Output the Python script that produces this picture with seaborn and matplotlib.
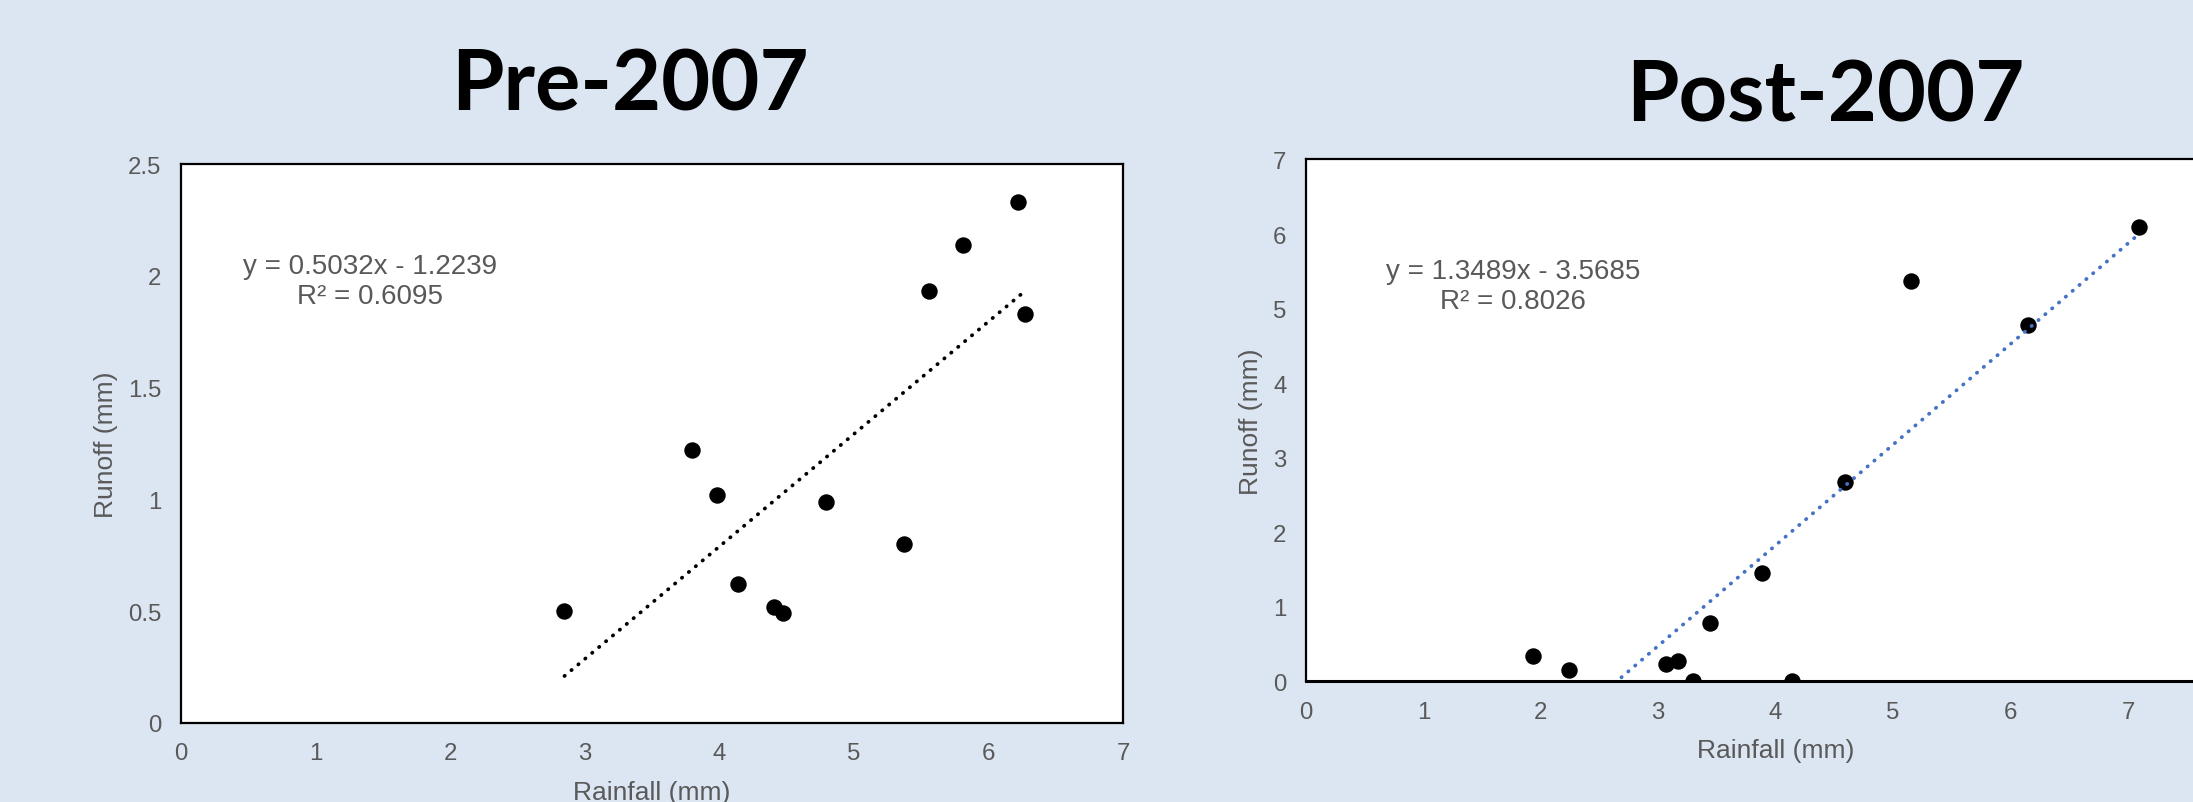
import numpy as np
import pandas as pd
import matplotlib
matplotlib.use("Agg")
import matplotlib.pyplot as plt
import seaborn as sns
from matplotlib.ticker import FuncFormatter

BG = "#DCE6F2"
GREY = "#595959"

# valeurs
pre_rain = [2.85, 3.80, 3.98, 4.14, 4.41, 4.47, 4.79, 5.37, 5.56, 5.81, 6.22, 6.27]
pre_runoff = [0.50, 1.22, 1.02, 0.62, 0.52, 0.49, 0.99, 0.80, 1.93, 2.14, 2.33, 1.83]
pre_slope, pre_intercept = 0.5032, -1.2239
pre_label = "y = 0.5032x - 1.2239\nR² = 0.6095"
pre_yticks = [0, 0.5, 1, 1.5, 2, 2.5]

post_rain = [1.93, 2.24, 3.07, 3.17, 3.30, 3.44, 3.88, 4.14, 4.59, 5.15, 6.15, 7.09]
post_runoff = [0.34, 0.16, 0.23, 0.28, 0.0, 0.78, 1.46, 0.0, 2.68, 5.37, 4.78, 6.10]
post_slope, post_intercept = 1.3489, -3.5685
post_label = "y = 1.3489x - 3.5685\nR² = 0.8026"
post_yticks = [0, 1, 2, 3, 4, 5, 6, 7]

xticks = [0, 1, 2, 3, 4, 5, 6, 7]

sns.set_theme(style="white")
plt.rcParams["font.family"] = ["Liberation Sans", "DejaVu Sans"]

fig = plt.figure(figsize=(21.93, 8.03), dpi=100, facecolor=BG)


def draw_panel(ax, rain, runoff, slope, intercept, label, line_color, yticks, xmax, eq_xy, xpad, ypad):
    df = pd.DataFrame({"Rainfall": rain, "Runoff": runoff})
    ax.set_facecolor("white")
    sns.scatterplot(data=df, x="Rainfall", y="Runoff", ax=ax, color="black",
                    s=140, linewidth=0, zorder=3)

    # courbe de tendance (droite de regression affichee)
    x_fit = np.array([df["Rainfall"].min(), df["Rainfall"].max()])
    ax.plot(x_fit, slope * x_fit + intercept, color=line_color, lw=2.7,
            linestyle=(0, (0.1, 2.3)), dash_capstyle="round", zorder=4)

    ax.set_xticks(xticks)
    ax.set_yticks(yticks)
    ax.set_xlim(0, xmax)
    ax.set_ylim(yticks[0], yticks[-1])
    fmt = FuncFormatter(lambda v, p: f"{v:g}")
    ax.xaxis.set_major_formatter(fmt)
    ax.yaxis.set_major_formatter(fmt)
    ax.tick_params(length=0, labelsize=17.3, labelcolor=GREY, pad=14)

    ax.set_xlabel("Rainfall (mm)", fontsize=19, color=GREY, labelpad=xpad)
    ax.set_ylabel("Runoff (mm)", fontsize=19, color=GREY, labelpad=ypad)

    for side in ax.spines.values():
        side.set_color("black")
        side.set_linewidth(1.6)
        side.set_visible(True)

    ax.text(eq_xy[0], eq_xy[1], label, transform=ax.transAxes, ha="center",
            va="center", multialignment="center", fontsize=20, color=GREY,
            linespacing=1.2)


ax1 = fig.add_axes([0.0825, 0.0984, 0.4296, 0.6961])
draw_panel(ax1, pre_rain, pre_runoff, pre_slope, pre_intercept, pre_label,
           "black", pre_yticks, 7, (0.2006, 0.790), 11, 7)

ax2 = fig.add_axes([0.5955, 0.1501, 0.4284, 0.6501])
draw_panel(ax2, post_rain, post_runoff, post_slope, post_intercept, post_label,
           "#4472C4", post_yticks, 8, (0.2204, 0.757), 11, 7)
ax2.spines["bottom"].set_linewidth(2.2)

fig.text(630 / 2193, 1 - 110.7 / 803, "Pre-2007", ha="center", va="baseline",
         fontsize=61, fontweight="bold", family=["Lato", "DejaVu Sans"], color="black")
fig.text(1825 / 2193, 1 - 121.7 / 803, "Post-2007", ha="center", va="baseline",
         fontsize=61, fontweight="bold", family=["Lato", "DejaVu Sans"], color="black")

fig.savefig("out.png", dpi=100, facecolor=BG)
